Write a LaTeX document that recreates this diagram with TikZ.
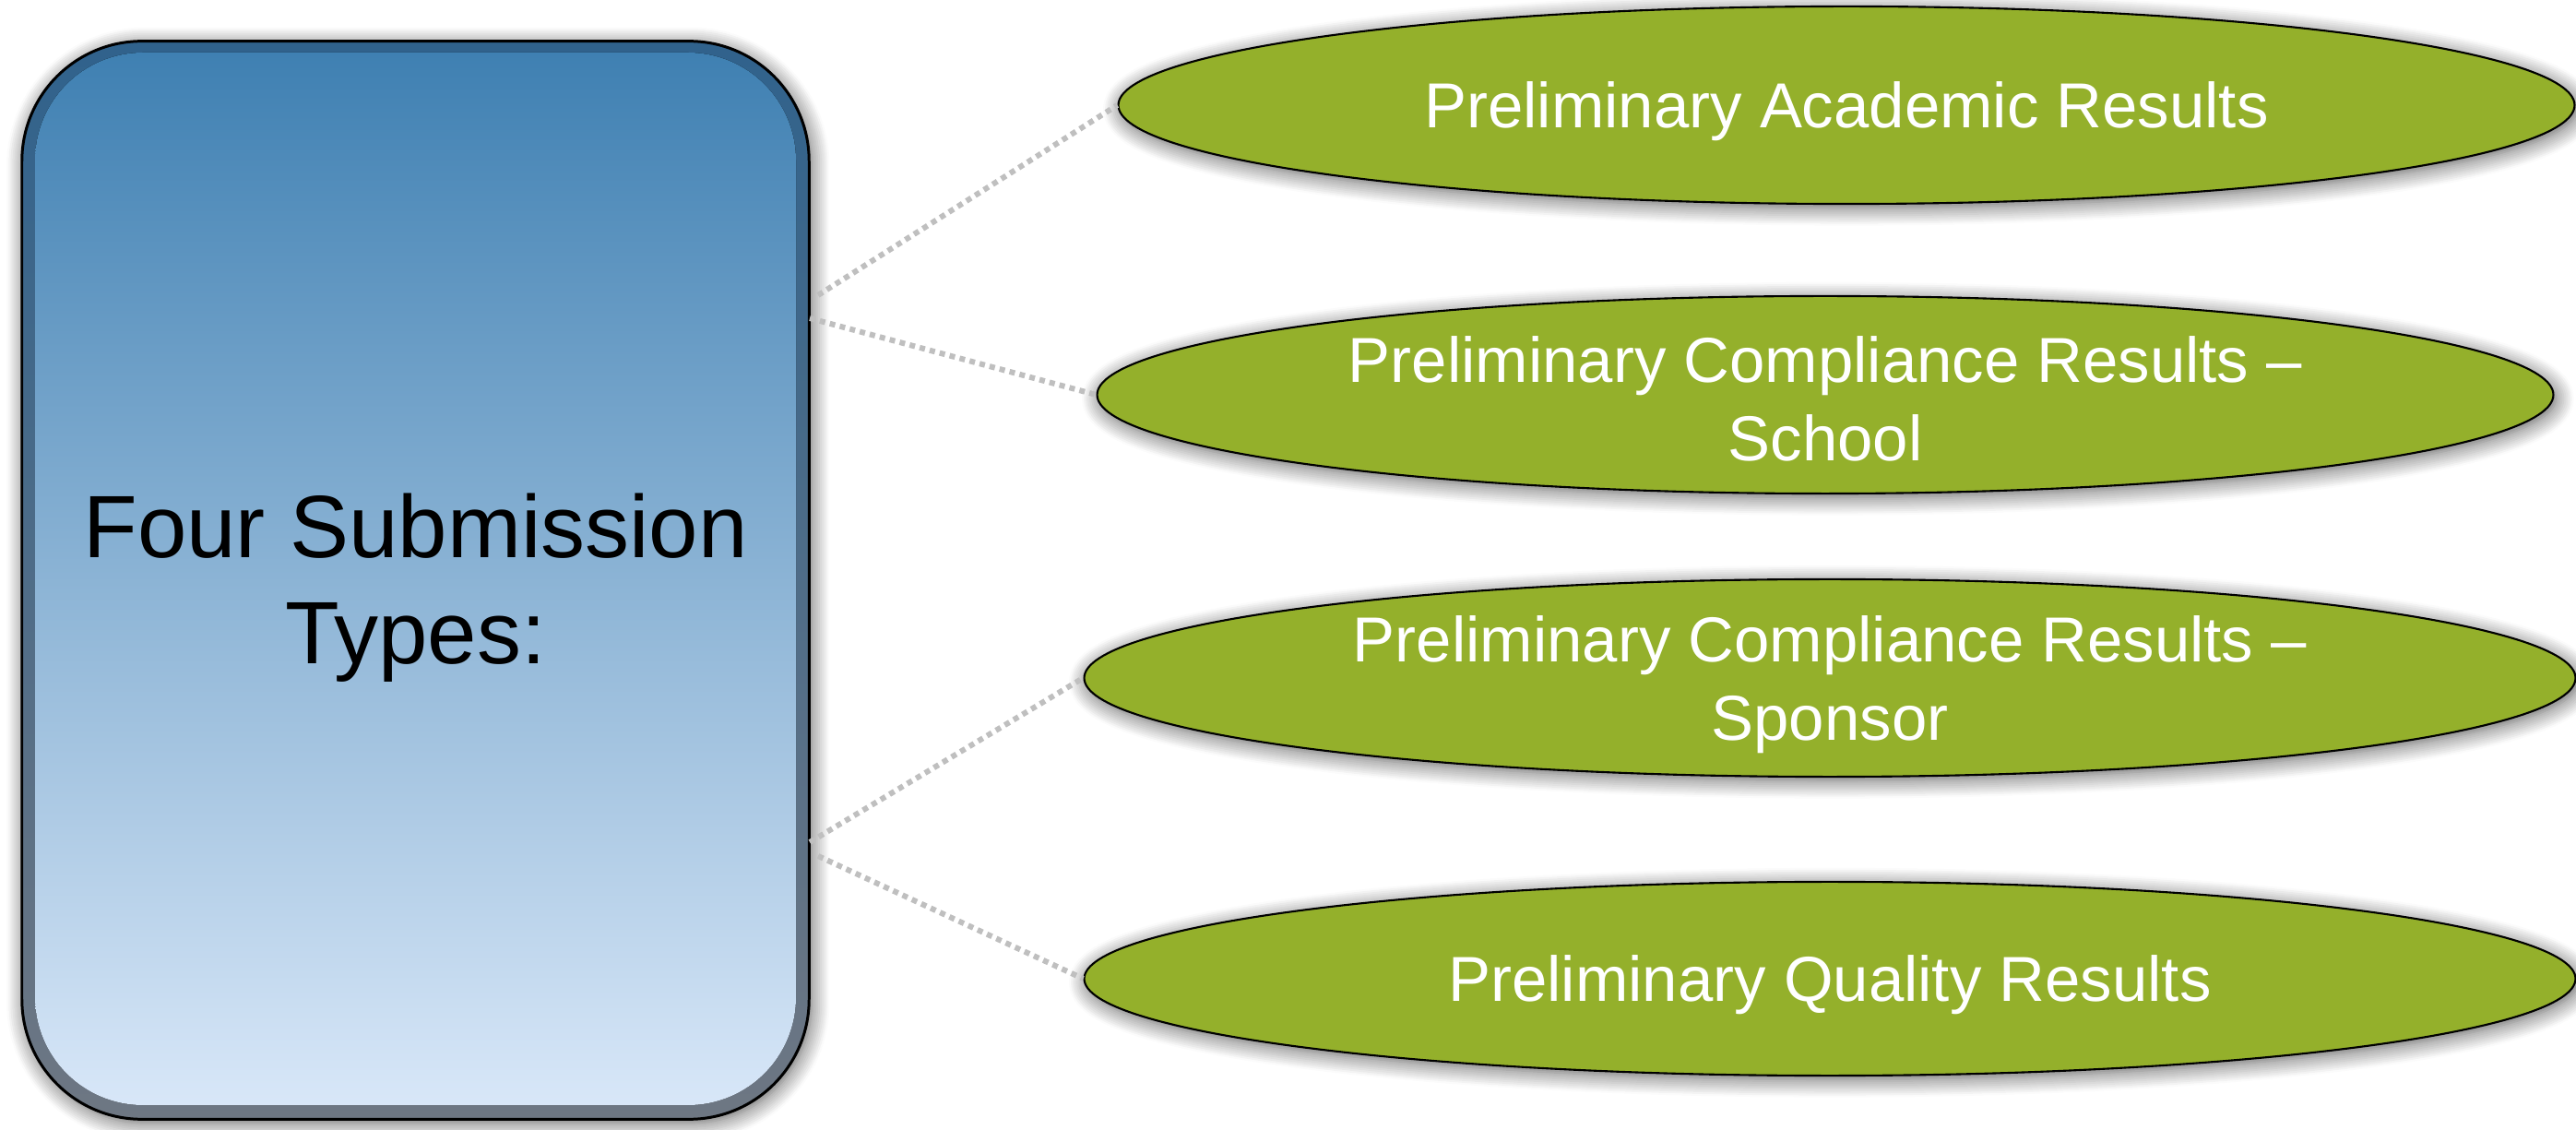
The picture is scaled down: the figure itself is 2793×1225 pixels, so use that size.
\documentclass[tikz,border=0pt]{standalone}
\usepackage{fontspec}
\setmainfont{Liberation Sans}
\usetikzlibrary{shapes.geometric,shadows.blur}
\definecolor{boxtop}{RGB}{63,128,178}
\definecolor{boxbot}{RGB}{216,231,248}
\definecolor{bandtop}{RGB}{48,98,140}
\definecolor{bandbot}{RGB}{110,119,131}
\definecolor{pillgreen}{RGB}{148,176,43}
\definecolor{dotgray}{RGB}{191,191,191}
\begin{document}
\begin{tikzpicture}[x=0.01cm,y=-0.01cm,
  softshadow/.style={blur shadow={shadow xshift=0.8pt, shadow yshift=-1.2pt, shadow blur radius=5.5pt, shadow opacity=65, shadow blur steps=10}},
  pill/.style={ellipse, draw=black, line width=0.6pt, fill=pillgreen, minimum height=2.14cm, inner sep=0pt, softshadow},
  pilltext/.style={text=white, align=center, font=\fontsize{19.6pt}{24.2pt}\selectfont},
  boxtext/.style={text=black, align=center, font=\fontsize{27.3pt}{32.7pt}\selectfont},
  conn/.style={draw=dotgray, line width=0.06cm, dash pattern=on 0.06cm off 0.052cm}
]
\useasboundingbox (0,0) rectangle (2793,1225);
% left box
\node[draw=black, line width=0.85pt, rounded corners=1.3cm, minimum width=8.53cm, minimum height=11.68cm,
      top color=bandtop, bottom color=bandbot, softshadow] (box) at (450.5,629) {};
\fill[rounded corners=1.17cm, top color=boxtop, bottom color=boxbot] (38,57) rectangle (863,1198);
\node[boxtext] (boxlabel) at ([yshift=-0.08cm]box.center) {Four Submission\\Types:};
% ellipses
\node[pill, minimum width=15.78cm] (e1) at (2002,114) {};
\node[pilltext] (t1) at ([yshift=-0.07cm]e1.center) {Preliminary Academic Results};
\node[pill, minimum width=15.78cm] (e2) at (1979,428) {};
\node[pilltext] (t2) at ([yshift=-0.04cm]e2.center) {Preliminary Compliance Results --\\School};
\node[pill, minimum width=16.16cm] (e3) at (1984,735) {};
\node[pilltext] (t3) at ([yshift=-0.07cm]e3.center) {Preliminary Compliance Results --\\Sponsor};
\node[pill, minimum width=16.16cm, minimum height=2.1cm] (e4) at (1984,1061) {};
\node[pilltext] (t4) at ([yshift=-0.07cm]e4.center) {Preliminary Quality Results};
% connectors
\coordinate (b1) at (887,320);
\coordinate (b2) at (878,345);
\coordinate (b3) at (878,913);
\coordinate (b4) at (887,928);
\draw[conn] (b1) -- (e1.west);
\draw[conn] (b2) -- (e2.west);
\draw[conn] (b3) -- (e3.west);
\draw[conn] (b4) -- (e4.west);
\end{tikzpicture}
\end{document}
